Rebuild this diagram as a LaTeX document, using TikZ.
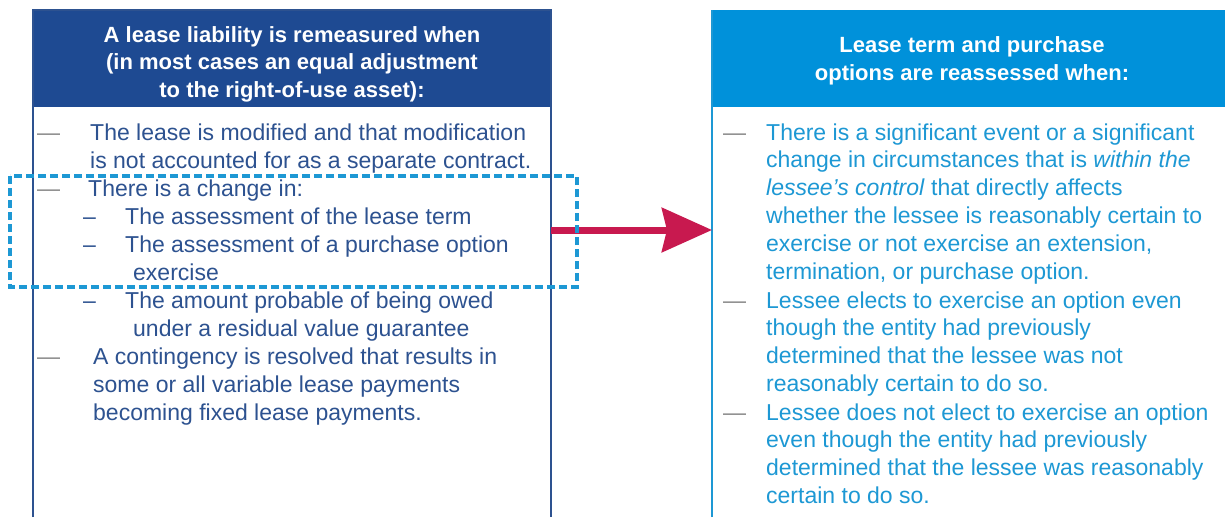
\documentclass[tikz,border=0pt]{standalone}
\usepackage{fontspec}
\setmainfont{Liberation Sans}
\usetikzlibrary{arrows.meta}

\definecolor{kdark}{HTML}{1E4A92}
\definecolor{kmid}{HTML}{0091DA}
\definecolor{ltext}{HTML}{2D5290}
\definecolor{rtext}{HTML}{1D98D4}
\definecolor{dashgrey}{HTML}{8C8C8C}
\definecolor{kpink}{HTML}{C8194F}

\tikzset{
  headtxt/.style={anchor=base, align=center, text=white, inner sep=0pt,
    font=\bfseries\fontsize{22}{27.5}\selectfont},
  ltxt/.style={anchor=base west, align=left, text=ltext, inner sep=0pt,
    font=\fontsize{23}{27.9}\selectfont},
  rtxt/.style={ltxt, text=rtext},
  bullet/.style={anchor=base west, text=dashgrey, inner sep=0pt,
    font=\fontsize{23}{27.9}\selectfont},
  subdash/.style={bullet, text=ltext},
  dashbox/.style={draw=rtext, line width=3.5pt, dash pattern=on 8pt off 4pt}
}

\begin{document}
\begin{tikzpicture}[x=1pt,y=-1pt]
    \useasboundingbox (0,0) rectangle (1225,517);
    \fill[white] (0,0) rectangle (1225,517);

    \fill[kdark] (33,10) rectangle (551,107);
    \draw[ltext, line width=2pt] (33,517) -- (33,10) -- (551,10) -- (551,517);
    \fill[kmid] (712,10) rectangle (1232,107);
    \draw[rtext, line width=2pt] (712,517) -- (712,10);

    % multi-line nodes sit on the baseline of their last line
    \node[headtxt] (lhead) at (292,97) {A lease liability is remeasured when\\(in most cases an equal adjustment\\to the right-of-use asset):};
    \node[headtxt] (rhead) at (972,80) {Lease term and purchase\\options are reassessed when:};

    \node[bullet] (lb1) at (37,140) {—};
    \node[ltxt] (lt1) at (90,168) {The lease is modified and that modification\\is not accounted for as a separate contract.};
    \node[bullet] (lb2) at (37,196) {—};
    \node[ltxt] (lt2) at (88,196) {There is a change in:};
    \node[subdash] (ls1) at (83,224) {–};
    \node[ltxt] (lt3) at (125,224) {The assessment of the lease term};
    \node[subdash] (ls2) at (83,252) {–};
    \node[ltxt] (lt4) at (125,280) {The assessment of a purchase option\\\hspace*{8pt}exercise};
    \node[subdash] (ls3) at (83,308) {–};
    \node[ltxt] (lt5) at (125,336) {The amount probable of being owed\\\hspace*{8pt}under a residual value guarantee};
    \node[bullet] (lb3) at (37,364) {—};
    \node[ltxt] (lt6) at (93,420) {A contingency is resolved that results in\\some or all variable lease payments\\becoming fixed lease payments.};

    \node[bullet] (rb1) at (723,140) {—};
    \node[rtxt] (rt1) at (766,279.5) {There is a significant event or a significant\\change in circumstances that is \textit{within the}\\\textit{lessee's control} that directly affects\\whether the lessee is reasonably certain to\\exercise or not exercise an extension,\\termination, or purchase option.};
    \node[bullet] (rb2) at (723,308) {—};
    \node[rtxt] (rt2) at (766,391.7) {Lessee elects to exercise an option even\\though the entity had previously\\determined that the lessee was not\\reasonably certain to do so.};
    \node[bullet] (rb3) at (723,420) {—};
    \node[rtxt] (rt3) at (766,503.7) {Lessee does not elect to exercise an option\\even though the entity had previously\\determined that the lessee was reasonably\\certain to do so.};

    \coordinate (arrfrom) at (551,230);
    \coordinate (arrto) at (712,230);
    \draw[kpink, line width=7pt, -{Stealth[length=50pt,width=44pt,inset=5pt]}] (arrfrom) -- (arrto);

    \draw[dashbox] (10,176) rectangle (577,287);
\end{tikzpicture}
\end{document}
